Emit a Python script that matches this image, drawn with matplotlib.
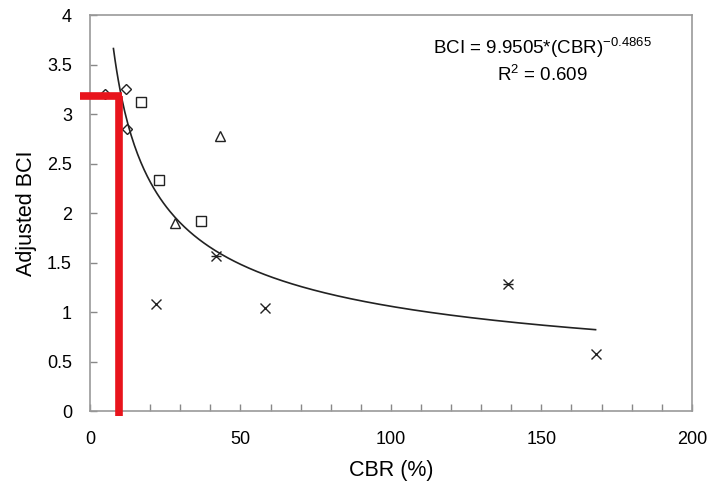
import numpy as np
import matplotlib.pyplot as plt
from matplotlib.ticker import MultipleLocator

# data
diamond_cbr = [5.0, 11.9, 12.2]
diamond_bci = [3.20, 3.25, 2.85]
square_cbr = [16.9, 22.9, 36.9]
square_bci = [3.12, 2.33, 1.92]
triangle_cbr = [28.2, 43.1]
triangle_bci = [1.90, 2.78]
cross_cbr = [22.0, 58.3, 168.0]
cross_bci = [1.08, 1.04, 0.58]
star_cbr = [42.0, 139.0]
star_bci = [1.57, 1.28]

# power fit
fit_a = 9.9505
fit_b = -0.4865
fit_range = [7.8, 168.0]

# red guide line
guide_cbr = 9.5
guide_bci = 3.18

plt.rcParams['font.family'] = ['Liberation Sans', 'DejaVu Sans']
plt.rcParams['mathtext.default'] = 'regular'

fig = plt.figure(figsize=(7.14, 4.90), dpi=100)
ax = fig.add_axes([0.126, 0.161, 0.843, 0.808])

x_fit = np.linspace(fit_range[0], fit_range[1], 300)
ax.plot(x_fit, fit_a * x_fit ** fit_b, color='#222222', lw=1.2, zorder=2)

mk = dict(linestyle='none', markerfacecolor='none', markeredgecolor='#222222',
          markeredgewidth=1.0, zorder=3)
ax.plot(diamond_cbr, diamond_bci, marker='D', markersize=5.5, **mk)
ax.plot(square_cbr, square_bci, marker='s', markersize=6.5, **mk)
ax.plot(triangle_cbr, triangle_bci, marker='^', markersize=7, **mk)
ax.plot(cross_cbr, cross_bci, marker='x', markersize=6.5, **mk)
ax.plot(star_cbr, star_bci, marker='x', markersize=6.5, **mk)
ax.plot(star_cbr, star_bci, marker='_', markersize=6.5, **mk)

# red guide lines
ax.plot([guide_cbr, guide_cbr], [-0.05, guide_bci], color='#e8141c', lw=5.5,
        solid_capstyle='butt', clip_on=False, zorder=4)
ax.plot([-3.3, guide_cbr + 1.2], [guide_bci, guide_bci], color='#e8141c', lw=5.5,
        solid_capstyle='butt', clip_on=False, zorder=4)

ax.text(0.752, 0.917, r'BCI = 9.9505*(CBR)$^{-0.4865}$', transform=ax.transAxes,
        ha='center', va='center', fontsize=13.5)
ax.text(0.752, 0.848, r'R$^2$ = 0.609', transform=ax.transAxes,
        ha='center', va='center', fontsize=13.5)

ax.set_xlim(0, 200)
ax.set_ylim(0, 4)
ax.xaxis.set_major_locator(MultipleLocator(50))
ax.xaxis.set_minor_locator(MultipleLocator(10))
ax.set_yticks(np.arange(0, 4.01, 0.5))
ax.set_yticklabels(['0', '0.5', '1', '1.5', '2', '2.5', '3', '3.5', '4'])

ax.tick_params(which='both', direction='in', length=5, color='#888888',
               labelsize=13, width=1)
ax.tick_params(axis='x', pad=14)
ax.tick_params(axis='y', pad=13)
for s in ax.spines.values():
    s.set_color('#999999')
    s.set_linewidth(1.2)

ax.set_xlabel('CBR (%)', fontsize=15.5, labelpad=9)
ax.set_ylabel('Adjusted BCI', fontsize=15.5, labelpad=7)

fig.savefig('out.png', dpi=100)
